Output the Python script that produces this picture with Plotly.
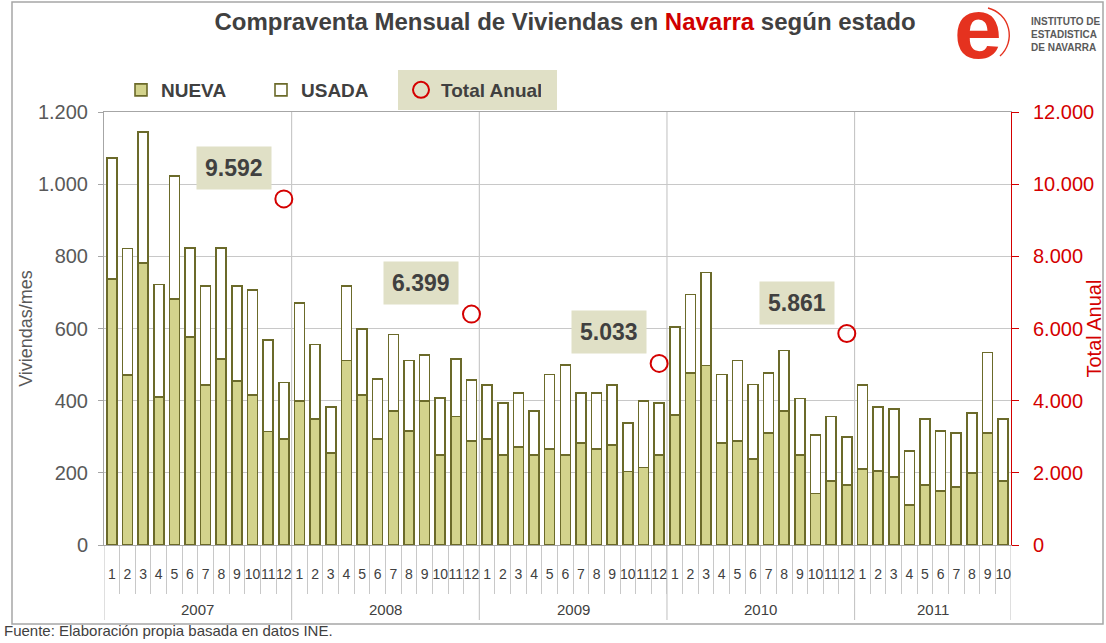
import base64
import plotly.graph_objects as go

# ---------------- data ----------------
years = [2007, 2008, 2009, 2010, 2011]
months_per_year = [12, 12, 12, 12, 10]

nueva = [738, 471, 781, 411, 682, 577, 444, 516, 455, 416, 315, 294,
         399, 349, 255, 511, 415, 294, 371, 316, 399, 250, 356, 288,
         293, 249, 271, 249, 266, 249, 282, 266, 277, 204, 215, 249,
         361, 476, 498, 282, 288, 238, 311, 371, 249, 143, 178, 166,
         210, 205, 188, 111, 166, 149, 160, 200, 311, 178]

usada = [334, 351, 364, 311, 340, 246, 274, 307, 263, 291, 253, 156,
         272, 207, 128, 206, 184, 166, 212, 195, 127, 157, 160, 169,
         151, 144, 151, 123, 206, 250, 140, 156, 167, 134, 184, 145,
         244, 218, 257, 190, 223, 207, 166, 168, 157, 162, 178, 134,
         234, 178, 189, 150, 184, 167, 151, 166, 222, 172]

annual_years = [2007, 2008, 2009, 2010]
annual_total = [9592, 6399, 5033, 5861]

month_labels = [str(m) for n in months_per_year for m in range(1, n + 1)]

# ---------------- derived positions ----------------
idx = list(range(len(nueva)))
starts = []
s = 0
for n in months_per_year:
    starts.append(s)
    s += n
year_centers = [st + (n - 1) / 2 for st, n in zip(starts, months_per_year)]
year_bounds = [st - 0.5 for st in starts] + [s - 0.5]
annual_x = [starts[years.index(y)] + 11 for y in annual_years]

# layout geometry (pixels) for decorations
W, H = 1106, 643
L, R, T, B = 104, 1011, 112, 545


def px(x):
    return (x - L) / (R - L)


def py(y):
    return (B - y) / (B - T)


OLIVE = "#6b6a2a"
FILL = "#d3d38c"
RED = "#d40000"
GREY = "#595959"
DARK = "#404040"
GRID = "#c8c8c8"
FONT = "Liberation Sans, Arial, sans-serif"

fig = go.Figure()

fig.add_trace(go.Bar(
    x=idx, y=nueva, name="NUEVA",
    marker=dict(color=FILL, line=dict(color=OLIVE, width=1.6)),
))
fig.add_trace(go.Bar(
    x=idx, y=usada, name="USADA",
    marker=dict(color="white", line=dict(color=OLIVE, width=1.6)),
))
fig.add_trace(go.Scatter(
    x=annual_x, y=annual_total, name="Total Anual", yaxis="y2",
    mode="markers",
    marker=dict(symbol="circle-open", size=17, color=RED, line=dict(width=2, color=RED)),
))

annotations = []
for xv, v in zip(annual_x, annual_total):
    annotations.append(dict(
        x=xv, y=v, xref="x", yref="y2", showarrow=False,
        text="<b>" + f"{v:,}".replace(",", ".") + "</b>",
        font=dict(size=23, color=DARK, family=FONT),
        bgcolor="#e0e0c6", borderpad=8, xshift=-50, yshift=31,
    ))

for yr, c in zip(years, year_centers):
    annotations.append(dict(
        x=c, y=py(609), xref="x", yref="paper", showarrow=False,
        yanchor="middle",
        text=str(yr), font=dict(size=15, color=DARK, family=FONT),
    ))

annotations.append(dict(
    x=px(1093), y=0.5, xref="paper", yref="paper", showarrow=False,
    xanchor="center", yanchor="middle",
    text="Total Anual", textangle=-90,
    font=dict(size=20, color=RED, family=FONT),
))

annotations.append(dict(
    x=px(2), y=py(630), xref="paper", yref="paper", showarrow=False,
    xanchor="left", yanchor="middle",
    text="Fuente: Elaboración propia basada en datos INE.",
    font=dict(size=15, color=DARK, family=FONT),
))

# logo text
annotations.append(dict(
    x=px(1029), y=py(35), xref="paper", yref="paper", showarrow=False,
    xanchor="left", yanchor="middle", align="left",
    text="<b>INSTITUTO DE<br>ESTADISTICA<br>DE NAVARRA</b>",
    font=dict(size=10, color="#5a5a5a", family=FONT),
))

# logo graphic (picture in the reference) as an inline SVG image
logo_svg = (
    "<svg xmlns='http://www.w3.org/2000/svg' width='80' height='64' viewBox='0 0 80 64'>"
    "<text x='30' y='58' text-anchor='middle' font-family='Liberation Sans, Arial, sans-serif' "
    "font-weight='bold' font-size='86' fill='#e5321f'>e</text>"
    "<path d='M 40 8 A 28 28 0 0 1 52 56' fill='none' stroke='#e5321f' stroke-width='1.4'/>"
    "</svg>"
)
logo_src = "data:image/svg+xml;base64," + base64.b64encode(logo_svg.encode()).decode()

shapes = []
for i, xb in enumerate(year_bounds):
    top = 1 if 0 < i < len(year_bounds) - 1 else 0
    shapes.append(dict(
        type="line", xref="x", yref="paper", x0=xb, x1=xb, y0=py(620), y1=top,
        line=dict(color="#bfbfbf", width=1), layer="below",
    ))
# legend highlight behind "Total Anual"
shapes.append(dict(
    type="rect", xref="paper", yref="paper",
    x0=px(398), x1=px(557), y0=py(110), y1=py(70),
    fillcolor="#e0e0c6", line=dict(width=0), layer="below",
))
# outer frame
shapes.append(dict(
    type="rect", xref="paper", yref="paper",
    x0=px(12), x1=px(1103), y0=py(624), y1=py(2),
    line=dict(color="#a6a6a6", width=1.5), fillcolor="rgba(0,0,0,0)", layer="below",
))

fig.update_layout(
    width=W, height=H,
    margin=dict(l=L, r=W - R, t=T, b=H - B),
    plot_bgcolor="white", paper_bgcolor="white",
    barmode="stack", bargap=0.36,
    separators=",.",
    font=dict(family=FONT, color=DARK),
    title=dict(
        text="<b>Compraventa Mensual de Viviendas en <span style='color:#d00000'>Navarra</span> según estado</b>",
        x=565 / W, xanchor="center", y=1 - 22 / H, yanchor="middle",
        font=dict(size=24, color=DARK, family=FONT),
    ),
    legend=dict(
        orientation="h", x=px(121), xanchor="left", y=py(90), yanchor="middle",
        font=dict(size=19, color=DARK, family=FONT, weight="bold"),
        entrywidth=95, entrywidthmode="pixels",
        bgcolor="rgba(0,0,0,0)", traceorder="normal",
    ),
    xaxis=dict(
        range=[-0.5, len(idx) - 0.5],
        tickmode="array", tickvals=idx, ticktext=month_labels,
        tickangle=0, ticks="", tickfont=dict(size=14, color=DARK),
        ticklabelstandoff=16,
        showgrid=False, zeroline=False,
        showline=True, linecolor="#a6a6a6", linewidth=1, mirror=True,
        minor=dict(tickmode="array", tickvals=[i - 0.5 for i in idx[1:]],
                   ticks="outside", ticklen=48, tickcolor=GRID, tickwidth=1),
    ),
    yaxis=dict(
        range=[0, 1200], tick0=0, dtick=200,
        showgrid=True, gridcolor=GRID, gridwidth=1, zeroline=False,
        showline=True, linecolor="#a6a6a6", linewidth=1,
        ticks="outside", ticklen=5, tickcolor="#a6a6a6",
        tickfont=dict(size=20, color=GREY), separatethousands=True,
        tickformat=",d", exponentformat="none", ticklabelstandoff=6,
        title=dict(text="Viviendas/mes", font=dict(size=18, color=GREY), standoff=0),
    ),
    yaxis2=dict(
        overlaying="y", side="right",
        range=[0, 12000], tick0=0, dtick=2000,
        showgrid=False, zeroline=False,
        showline=True, linecolor=RED, linewidth=1,
        ticks="outside", ticklen=7, tickcolor=RED,
        tickfont=dict(size=20, color=RED), separatethousands=True,
        tickformat=",d", exponentformat="none",
        ticklabelstandoff=10,
    ),
    images=[dict(
        source=logo_src, xref="paper", yref="paper",
        x=px(948), y=py(0), sizex=80 / (R - L), sizey=64 / (B - T),
        xanchor="left", yanchor="top", sizing="stretch", layer="above",
    )],
    annotations=annotations,
    shapes=shapes,
)

fig.write_html(
    "out.html",
    config={"displayModeBar": False},
    post_script="document.body.style.margin='0';document.body.style.padding='0';",
)
